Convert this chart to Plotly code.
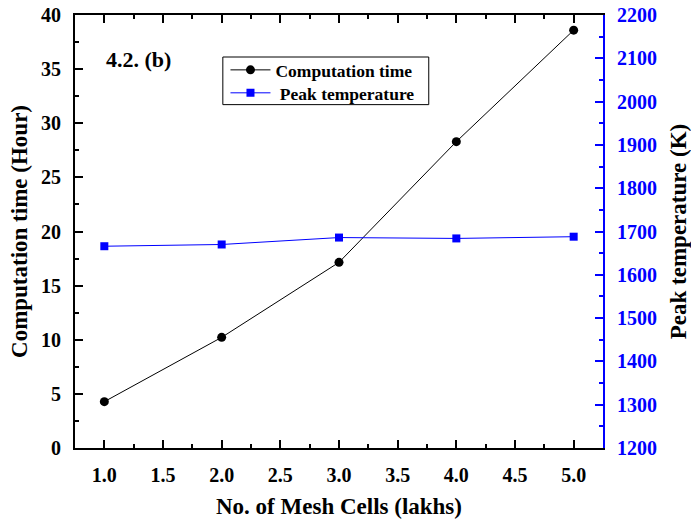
import plotly.graph_objects as go

mesh_cells = [1.0, 2.0, 3.0, 4.0, 5.0]
computation_time = [4.28, 10.22, 17.15, 28.3, 38.6]
peak_temperature = [1666, 1670, 1686, 1684, 1688]

x_ticks = [1.0, 1.5, 2.0, 2.5, 3.0, 3.5, 4.0, 4.5, 5.0]
y1_ticks = [0, 5, 10, 15, 20, 25, 30, 35, 40]
y2_ticks = [1200, 1300, 1400, 1500, 1600, 1700, 1800, 1900, 2000, 2100, 2200]

FONT = "Liberation Serif"

fig = go.Figure()
fig.add_trace(go.Scatter(
    x=mesh_cells, y=computation_time, name="<b>Computation time</b>",
    mode="lines+markers", line=dict(color="black", width=1),
    marker=dict(symbol="circle", size=9, color="black"), yaxis="y", legend="legend"))
fig.add_trace(go.Scatter(
    x=mesh_cells, y=peak_temperature, name="<b> Peak temperature</b>",
    mode="lines+markers", line=dict(color="#0000ff", width=1),
    marker=dict(symbol="square", size=8, color="#0000ff"), yaxis="y2", legend="legend2"))

tickfont = dict(family=FONT, size=20, color="black")
titlefont = dict(family=FONT, size=23, color="black")
legfont = dict(family=FONT, size=17.5, color="black")
fig.update_layout(
    width=691, height=522,
    margin=dict(l=75, r=88, t=15, b=74),
    paper_bgcolor="white", plot_bgcolor="white",
    showlegend=True,
    legend=dict(x=0.285, y=0.873, xanchor="left", yanchor="middle",
                borderwidth=0, bgcolor="rgba(0,0,0,0)", font=legfont, itemwidth=40),
    legend2=dict(x=0.285, y=0.820, xanchor="left", yanchor="middle",
                 borderwidth=0, bgcolor="rgba(0,0,0,0)", font=legfont, itemwidth=40),
    shapes=[dict(type="rect", xref="paper", yref="paper",
                 x0=0.280, x1=0.670, y0=0.793, y1=0.903,
                 line=dict(color="black", width=1), fillcolor="rgba(0,0,0,0)")],
    xaxis=dict(range=[0.75, 5.25], tickvals=x_ticks, automargin=False,
               ticktext=["<b>%.1f</b>" % v for v in x_ticks],
               showline=True, linecolor="black", linewidth=2, mirror="ticks",
               ticks="inside", ticklen=8, tickwidth=1.5, tickcolor="black",
               minor=dict(ticks="inside", ticklen=4, tickwidth=1.5, dtick=0.25, tick0=0.75, tickcolor="black"),
               showgrid=False, zeroline=False, tickfont=tickfont, ticklabelstandoff=8,
               title=dict(text="<b>No. of Mesh Cells (lakhs)</b>", standoff=13, font=titlefont)),
    yaxis=dict(range=[0, 40], tickvals=y1_ticks, ticktext=["<b>%d</b>" % v for v in y1_ticks],
               automargin=False,
               showline=True, linecolor="black", linewidth=2,
               ticks="inside", ticklen=8, tickwidth=1.5, tickcolor="black",
               minor=dict(ticks="inside", ticklen=4, tickwidth=1.5, dtick=2.5, tickcolor="black"),
               showgrid=False, zeroline=False, tickfont=tickfont, ticklabelstandoff=8,
               title=dict(text="<b>Computation time (Hour)</b>", standoff=7, font=titlefont)),
    yaxis2=dict(range=[1200, 2200], tickvals=y2_ticks, ticktext=["<b>%d</b>" % v for v in y2_ticks],
                overlaying="y", side="right", automargin=False,
                showline=True, linecolor="#0000ff", linewidth=2,
                ticks="inside", ticklen=8, tickwidth=1.5, tickcolor="#0000ff",
                minor=dict(ticks="inside", ticklen=4, tickwidth=1.5, dtick=50, tickcolor="#0000ff"),
                showgrid=False, zeroline=False,
                tickfont=dict(family=FONT, size=20, color="#0000ff"), ticklabelstandoff=8,
                title=dict(text="<b>Peak temperature (K)</b>", standoff=14, font=titlefont)),
    annotations=[dict(text="<b>4.2. (b)</b>", x=0.055, y=0.931, xref="paper", yref="paper",
                      xanchor="left", yanchor="top", showarrow=False,
                      font=dict(family=FONT, size=22, color="black"))],
)

fig.write_html("out.html")
